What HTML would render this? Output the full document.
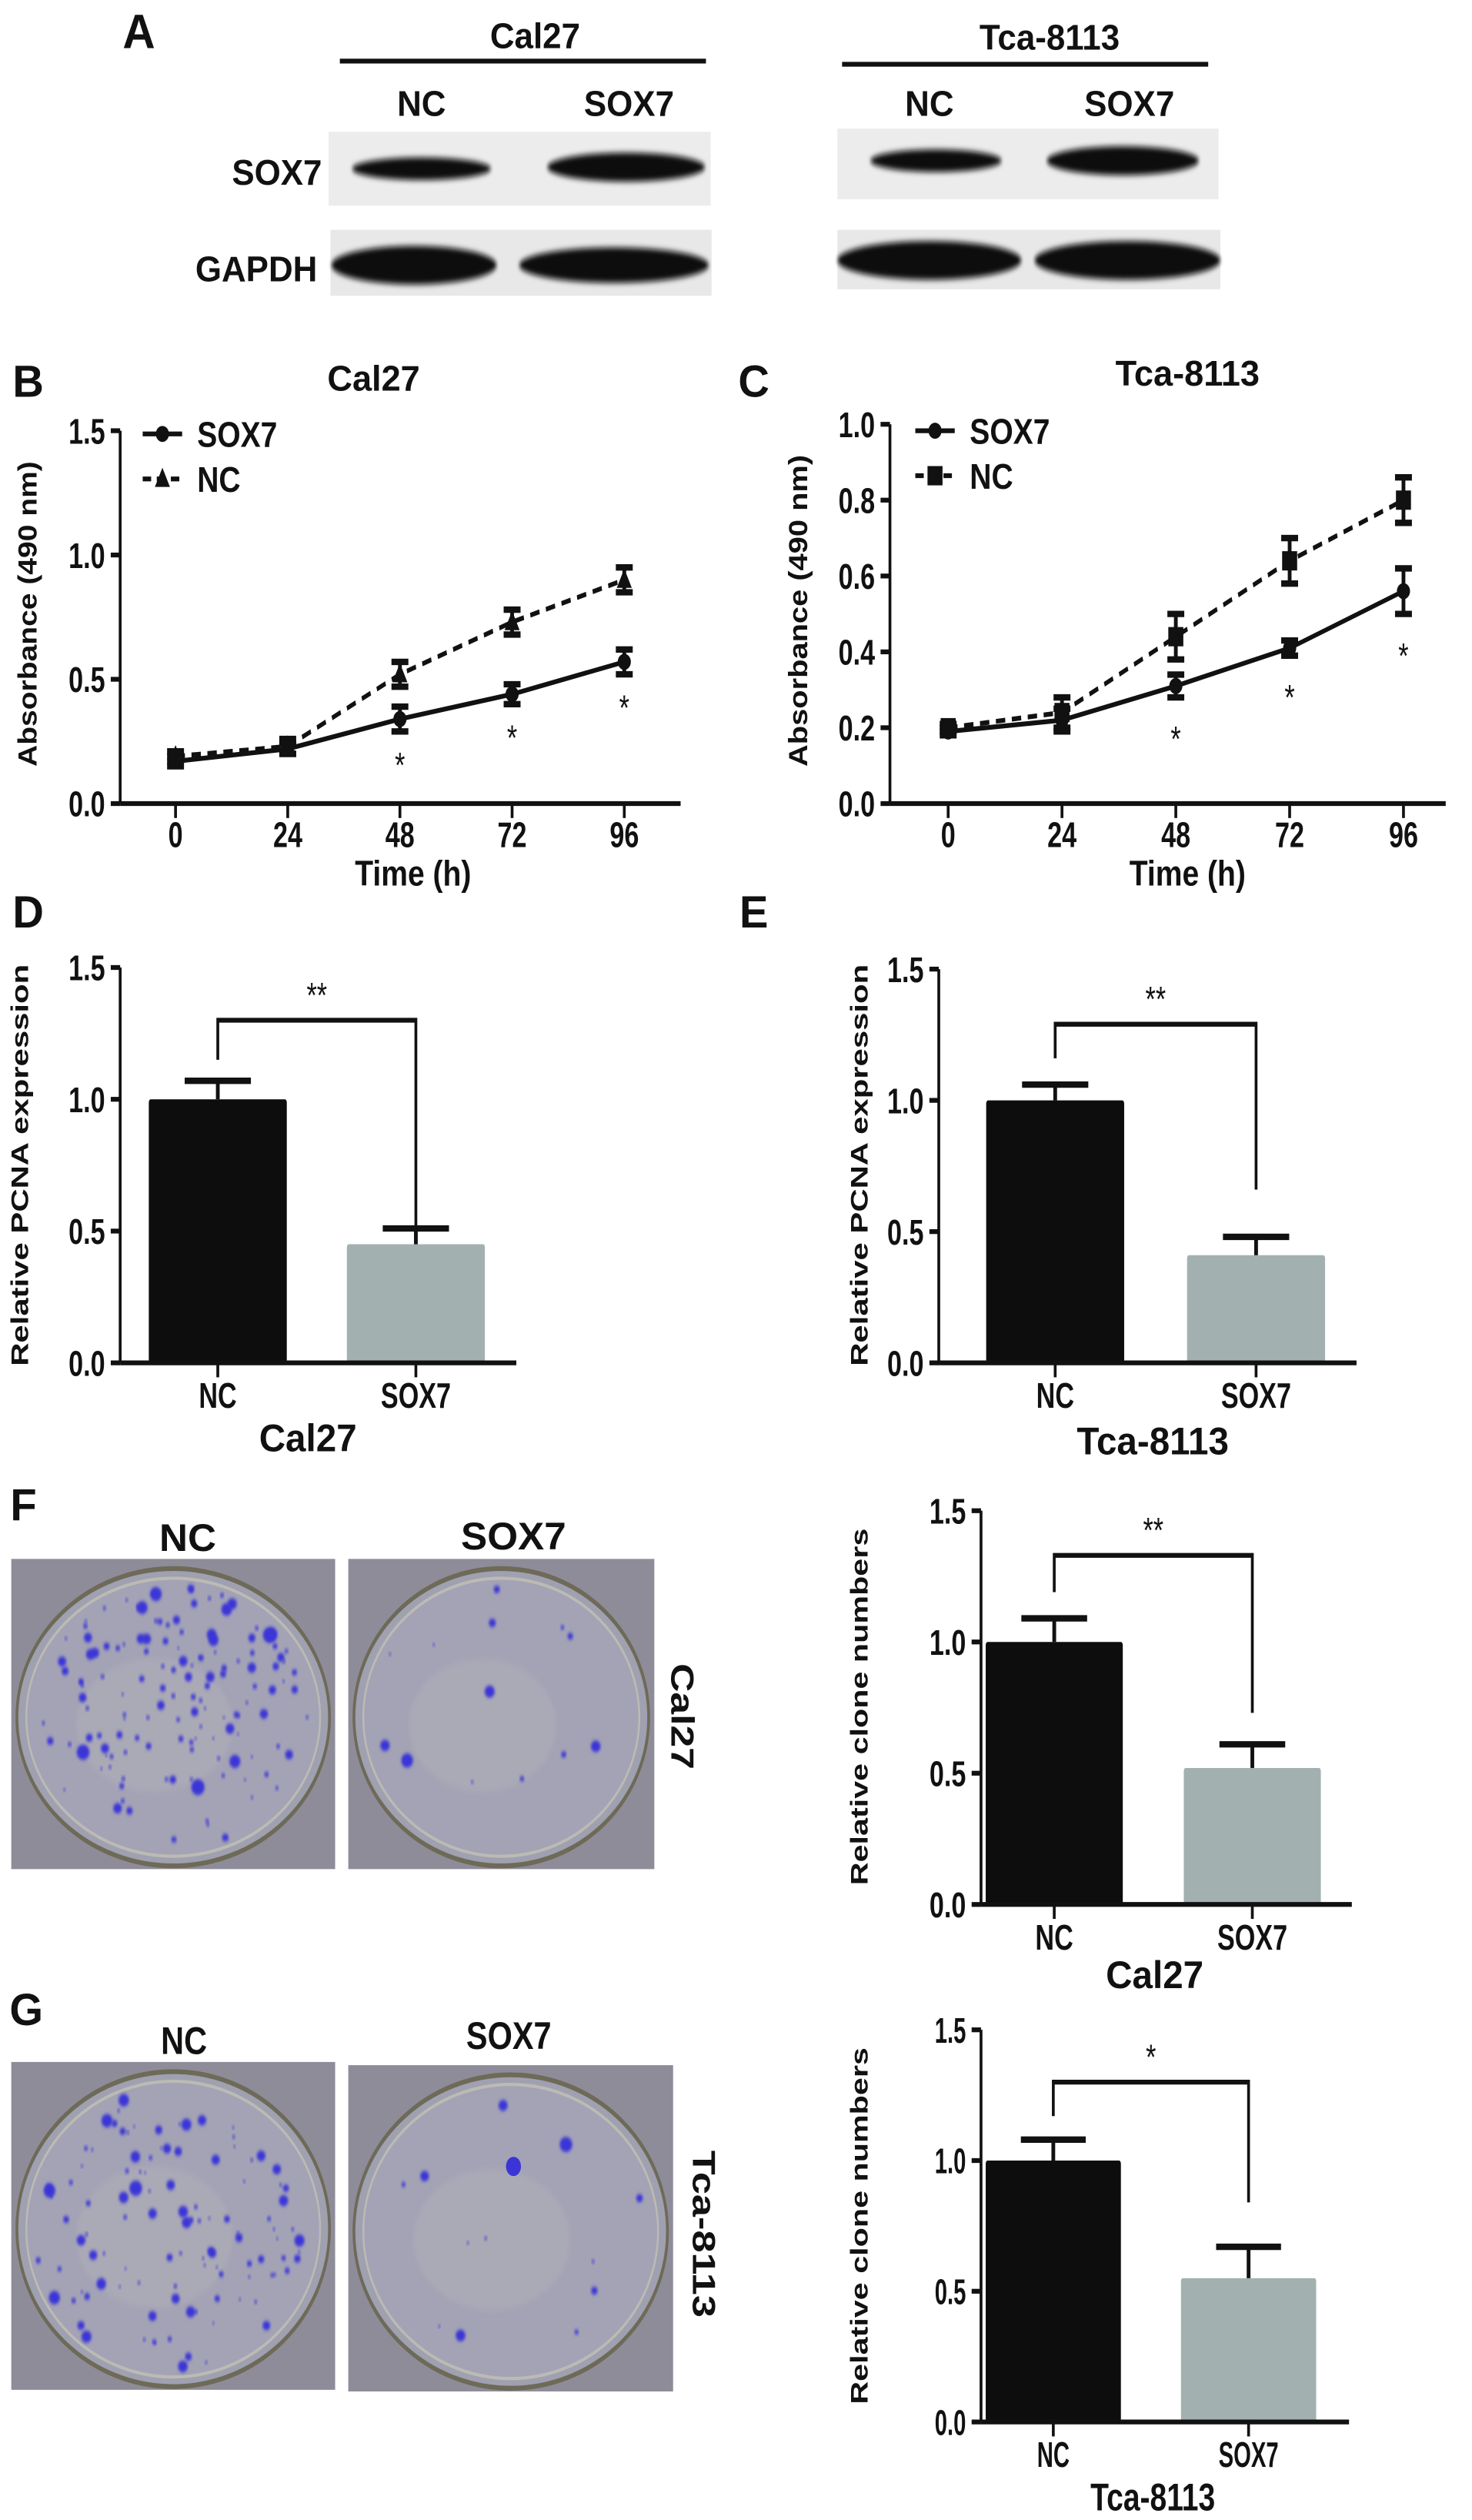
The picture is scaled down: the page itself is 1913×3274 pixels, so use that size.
<!DOCTYPE html>
<html><head><meta charset="utf-8"><style>
html,body{margin:0;padding:0;background:#fff;}
svg{display:block;}
text{font-family:"Liberation Sans",sans-serif;fill:#111;}
</style></head><body>
<svg id="fig" width="1913" height="3274" viewBox="0 0 1568 1568" preserveAspectRatio="none" xmlns="http://www.w3.org/2000/svg">
<defs>
<filter id="blur" x="-20%" y="-50%" width="140%" height="200%"><feGaussianBlur stdDeviation="1.8"/></filter>
<filter id="blur1" x="-20%" y="-50%" width="140%" height="200%"><feGaussianBlur stdDeviation="1.2"/></filter>
</defs>
<g id="blots">
  <line x1="362" y1="38" x2="752" y2="38" stroke="#111" stroke-width="3"/>
  <line x1="897" y1="40" x2="1287" y2="40" stroke="#111" stroke-width="3"/>
  <rect x="350" y="82" width="407" height="46" fill="#ececec"/>
  <rect x="352" y="143" width="406" height="41" fill="#e8e8e8"/>
  <rect x="892" y="80" width="406" height="44" fill="#ececec"/>
  <rect x="892" y="143" width="408" height="37" fill="#e8e8e8"/>
  <g filter="url(#blur)" fill="#0a0a0a">
    <ellipse cx="449" cy="105" rx="74" ry="7"/>
    <ellipse cx="667" cy="104" rx="84" ry="9"/>
    <ellipse cx="441" cy="165" rx="88" ry="12"/>
    <ellipse cx="654" cy="165" rx="101" ry="11"/>
    <ellipse cx="997" cy="100" rx="70" ry="7"/>
    <ellipse cx="1196" cy="100" rx="81" ry="9"/>
    <ellipse cx="990" cy="162" rx="98" ry="12"/>
    <ellipse cx="1201" cy="162" rx="99" ry="12"/>
  </g>
</g>
<g id="dishes"></g>
<g id="txt"></g>
</svg>
<script>
const NS='http://www.w3.org/2000/svg';
const svg=document.getElementById('fig');
const TX=document.getElementById('txt');
function el(tag,attrs,parent){const e=document.createElementNS(NS,tag);for(const k in attrs)e.setAttribute(k,attrs[k]);(parent||svg).appendChild(e);return e;}
function txt(x,y,s,fx,fy,anchor,weight,parent){
  const t=el('text',{transform:`translate(${x},${y}) scale(1,${fy/fx})`,'font-size':fx,'text-anchor':anchor||'middle','font-weight':weight||'bold'},parent||TX);
  t.textContent=s;return t;}
function vtxt(x,y,s,f,len,rot,weight,parent){
  const t=el('text',{transform:`translate(${x},${y}) rotate(${rot})`,'font-size':f,'text-anchor':'middle','font-weight':weight||'normal',textLength:len,lengthAdjust:'spacingAndGlyphs'},parent||TX);
  t.textContent=s;return t;}

/* ---------- Panel A labels ---------- */
let t;
t=txt(148,30,'A',48,30,'middle','bold');


t=txt(570,30,'Cal27',36,22);


t=txt(1118,31,'Tca-8113',36,22);


t=txt(449,72,'NC',36,22);


t=txt(670,72,'SOX7',36,22);


t=txt(990,72,'NC',36,22);


t=txt(1203,72,'SOX7',36,22);


t=txt(343,115,'SOX7',36,22,'end');


t=txt(338,175,'GAPDH',36,22,'end');



/* ---------- Line charts B, C ---------- */
const timePoints=[0,24,48,72,96];
const bSox7=[0.17,0.22,0.34,0.44,0.57];
const bSox7Err=[0.02,0.02,0.05,0.04,0.05];
const bNC=[0.19,0.23,0.52,0.73,0.90];
const bNCErr=[0.02,0.03,0.05,0.05,0.05];
const bTicks=['0.0','0.5','1.0','1.5'];
const cSox7=[0.19,0.22,0.31,0.41,0.56];
const cSox7Err=[0.01,0.03,0.03,0.02,0.06];
const cNC=[0.20,0.24,0.44,0.64,0.80];
const cNCErr=[0.01,0.04,0.06,0.06,0.06];
const cTicks=['0.0','0.2','0.4','0.6','0.8','1.0'];
const bStars=[false,false,true,true,true];
const cStars=[false,false,true,true,true];

function lineChart(cfg){
  const g=el('g',{});
  
  
  const X=v=>cfg.px0+(v-timePoints[0])/(timePoints[timePoints.length-1]-timePoints[0])*(cfg.px96-cfg.px0);
  const Y=v=>cfg.yBot-v/cfg.ymax*(cfg.yBot-cfg.yTop);
  el('line',{x1:cfg.ax,y1:cfg.yTop,x2:cfg.ax,y2:cfg.yBot,stroke:'#111','stroke-width':3},g);
  el('line',{x1:cfg.ax,y1:cfg.yBot,x2:cfg.xEnd,y2:cfg.yBot,stroke:'#111','stroke-width':3},g);
  cfg.ticks.forEach(s=>{const v=parseFloat(s);
    el('line',{x1:cfg.ax-10,y1:Y(v),x2:cfg.ax,y2:Y(v),stroke:'#111','stroke-width':3},g);
    const tl=txt(cfg.ax-16,Y(v)+8,s,28,22,'end','bold',g);
    
    
  });
  timePoints.forEach(tp=>{
    el('line',{x1:X(tp),y1:cfg.yBot,x2:X(tp),y2:cfg.yBot+9,stroke:'#111','stroke-width':3},g);
    const tl=txt(X(tp),cfg.yBot+27,String(tp),28,22,'middle','bold',g);
    
    
  });
  function series(vals,errs,dash,marker,nm){
    const sg=el('g',{},g);
    
    
    const pts=vals.map((v,i)=>X(timePoints[i])+','+Y(v)).join(' ');
    el('polyline',{points:pts,fill:'none',stroke:'#111','stroke-width':3,'stroke-dasharray':dash},sg);
    vals.forEach((v,i)=>{const x=X(timePoints[i]);
      el('line',{x1:x,y1:Y(v+errs[i]),x2:x,y2:Y(v-errs[i]),stroke:'#111','stroke-width':4},sg);
      el('line',{x1:x-9,y1:Y(v+errs[i]),x2:x+9,y2:Y(v+errs[i]),stroke:'#111','stroke-width':4},sg);
      el('line',{x1:x-9,y1:Y(v-errs[i]),x2:x+9,y2:Y(v-errs[i]),stroke:'#111','stroke-width':4},sg);
      const m=drawMarker(marker,x,Y(v),sg);
      
      
    });
  }
  series(cfg.nc,cfg.ncErr,'10,7',cfg.ncMarker,'series-nc');
  series(cfg.sox,cfg.soxErr,'none','circle','series-sox7');
  cfg.sox.forEach((v,i)=>{ if(cfg.stars[i]){
    const s=txt(X(timePoints[i]),Y(v-cfg.soxErr[i]-cfg.starOff)+10,'*',28,22,'middle','normal',g);
    
    
  }});
  const lg=el('g',{},g);
  
  
  el('line',{x1:cfg.lx,y1:cfg.ly,x2:cfg.lx+42,y2:cfg.ly,stroke:'#111','stroke-width':3},lg);
  drawMarker('circle',cfg.lx+21,cfg.ly,lg);
  let lt=txt(cfg.lx+58,cfg.ly+8,'SOX7',32,22,'start','bold',lg);
  
  
  el('line',{x1:cfg.lx,y1:cfg.ly+28,x2:cfg.lx+42,y2:cfg.ly+28,stroke:'#111','stroke-width':3,'stroke-dasharray':'9,6'},lg);
  drawMarker(cfg.ncMarker,cfg.lx+21,cfg.ly+28,lg);
  lt=txt(cfg.lx+58,cfg.ly+36,'NC',32,22,'start','bold',lg);
  
  
  return {g,X,Y};
}
function drawMarker(type,x,y,p){
  if(type==='circle') return el('ellipse',{cx:x,cy:y,rx:7,ry:5,fill:'#111'},p);
  if(type==='square') return el('rect',{x:x-8,y:y-6,width:16,height:12,fill:'#111'},p);
  return el('polygon',{points:`${x},${y-7} ${x+8},${y+5} ${x-8},${y+5}`,fill:'#111'},p);
}
lineChart({name:'chart-b-cal27-absorbance',ax:128,xEnd:725,yTop:268,yBot:500,ymax:1.5,px0:187,px96:665,ticks:bTicks,
  sox:bSox7,soxErr:bSox7Err,nc:bNC,ncErr:bNCErr,ncMarker:'triangle',stars:bStars,starOff:0.12,lx:152,ly:270});
lineChart({name:'chart-c-tca8113-absorbance',ax:948,xEnd:1540,yTop:264,yBot:500,ymax:1.0,px0:1010,px96:1495,ticks:cTicks,
  sox:cSox7,soxErr:cSox7Err,nc:cNC,ncErr:cNCErr,ncMarker:'square',stars:cStars,starOff:0.1,lx:975,ly:268});

t=txt(30,247,'B',46,28);


t=txt(803,247,'C',46,28);


t=txt(398,243,'Cal27',37,22,'middle','bold');


t=txt(1265,240,'Tca-8113',37,22);


t=txt(440,551,'Time (h)',32,22);


t=txt(1265,551,'Time (h)',32,22);


t=vtxt(39,382,'Absorbance (490 nm)',28,190,-90,'bold');


t=vtxt(860,380,'Absorbance (490 nm)',28,194,-90,'bold');



/* ---------- Bar charts D, E, F, G ---------- */
const barCategories=['NC','SOX7'];
const dValues=[1.0,0.45];
const dErrors=[0.07,0.06];
const eValues=[1.0,0.41];
const eErrors=[0.06,0.07];
const fValues=[1.0,0.52];
const fErrors=[0.09,0.09];
const gValues=[1.0,0.55];
const gErrors=[0.08,0.12];
const barTicks=['0.0','0.5','1.0','1.5'];
const dBracket=[1.30,1.15,0.51];
const eBracket=[1.29,1.16,0.66];
const fBracket=[1.33,1.19,0.73];
const gBracket=[1.30,1.17,0.84];
const barColors=['#0d0d0d','#a3b0b0'];

function barChart(cfg){
  const g=el('g',{});
  
  
  const Y=v=>cfg.yBot-v/1.5*(cfg.yBot-cfg.yTop);
  const bw=cfg.bw;
  const X=i=>cfg.cx[0]+i*(cfg.cx[1]-cfg.cx[0]);
  cfg.vals.forEach((v,i)=>{
    const b=el('rect',{x:X(i)-bw/2,y:Y(v),width:bw,height:Y(0)-Y(v),fill:barColors[i],rx:2},g);
    
    
    const e=cfg.errs[i];
    el('line',{x1:X(i),y1:Y(v),x2:X(i),y2:Y(v+e),stroke:'#111','stroke-width':4},g);
    el('line',{x1:X(i)-bw*0.24,y1:Y(v+e),x2:X(i)+bw*0.24,y2:Y(v+e),stroke:'#111','stroke-width':4},g);
    el('line',{x1:X(i),y1:cfg.yBot,x2:X(i),y2:cfg.yBot+9,stroke:'#111','stroke-width':3},g);
    const cl=txt(X(i),cfg.yBot+28,barCategories[i],cfg.catF,22,'middle','bold',g);
    
    
  });
  el('line',{x1:cfg.ax,y1:cfg.yTop,x2:cfg.ax,y2:cfg.yBot,stroke:'#111','stroke-width':3},g);
  el('line',{x1:cfg.ax,y1:cfg.yBot,x2:cfg.xEnd,y2:cfg.yBot,stroke:'#111','stroke-width':3},g);
  barTicks.forEach(s=>{const v=parseFloat(s);
    el('line',{x1:cfg.ax-10,y1:Y(v),x2:cfg.ax,y2:Y(v),stroke:'#111','stroke-width':3},g);
    const tl=txt(cfg.ax-16,Y(v)+8,s,cfg.narrow?24:28,22,'end','bold',g);
    
    
  });
  const br=cfg.bracket;
  const bp=el('polyline',{points:`${X(0)},${Y(br[1])} ${X(0)},${Y(br[0])} ${X(1)},${Y(br[0])} ${X(1)},${Y(br[2])}`,fill:'none',stroke:'#111','stroke-width':3},g);
  
  
  const st=txt((X(0)+X(1))/2,Y(br[0])-8,cfg.sig,28,22,'middle','normal',g);
  
  
  return g;
}
barChart({name:'chart-d-cal27-pcna',ax:128,xEnd:550,yTop:602,yBot:848,cx:[232,443],bw:147,vals:dValues,errs:dErrors,bracket:dBracket,sig:'**',catF:28});
barChart({name:'chart-e-tca8113-pcna',ax:1000,xEnd:1445,yTop:603,yBot:848,cx:[1124,1338],bw:147,vals:eValues,errs:eErrors,bracket:eBracket,sig:'**',catF:28});
barChart({name:'chart-f-cal27-clones',ax:1045,xEnd:1440,yTop:940,yBot:1185,cx:[1123,1334],bw:146,vals:fValues,errs:fErrors,bracket:fBracket,sig:'**',catF:28});
barChart({name:'chart-g-tca8113-clones',ax:1045,xEnd:1437,yTop:1263,yBot:1507,cx:[1122,1330],bw:144,vals:gValues,errs:gErrors,bracket:gBracket,sig:'*',catF:24,narrow:true});

t=txt(30,577,'D',46,28);


t=txt(803,577,'E',46,28);


t=txt(25,946,'F',46,28);


t=txt(28,1260,'G',46,28);


t=txt(328,903,'Cal27',39,24);


t=txt(1228,905,'Tca-8113',39,24);


t=txt(1230,1237,'Cal27',39,24);


t=txt(1228,1562,'Tca-8113',32,24);


t=vtxt(30,725,'Relative PCNA expression',26,250,-90,'bold');


t=vtxt(924,725,'Relative PCNA expression',26,250,-90,'bold');


t=vtxt(924,1062,'Relative clone numbers',26,222,-90,'bold');


t=vtxt(924,1385,'Relative clone numbers',26,222,-90,'bold');



/* ---------- colony dish images ---------- */
const D=document.getElementById('dishes');
let seed=7;function rnd(){seed=(seed*16807)%2147483647;return seed/2147483647;}
function dish(x,y,w,h,n,nm){
  const g=el('g',{},D);
  
  
  el('rect',{x,y,width:w,height:h,fill:'#8e8c98'},g);
  const cx=x+w/2,cy=y+h/2+2,rx=w/2-6,ry=h/2-4;
  el('ellipse',{cx,cy,rx,ry,fill:'#9fa0b0',stroke:'#6e6a58','stroke-width':3},g);
  el('ellipse',{cx,cy,rx:rx-10,ry:ry-6,fill:'#a3a3b5',stroke:'#bcbab4','stroke-width':2},g);
  el('ellipse',{cx:cx-20,cy:cy+5,rx:rx*0.5,ry:ry*0.45,fill:'#b0adb8',opacity:0.6,filter:'url(#blur)'},g);
  for(let i=0;i<n;i++){const a=rnd()*6.283,r=Math.sqrt(rnd())*0.95;
    const s=1.2+rnd()*rnd()*6;
    el('ellipse',{cx:cx+Math.cos(a)*r*(rx-10),cy:cy+Math.sin(a)*r*(ry-6),rx:s,ry:s*0.7,fill:'#3b35d8',filter:'url(#blur1)'},g);}
}
dish(12,970,345,193,140,'colony-dish-nc-cal27');
dish(371,970,326,193,14,'colony-dish-sox7-cal27');
dish(12,1283,345,204,110,'colony-dish-nc-tca8113');
dish(371,1285,346,203,12,'colony-dish-sox7-tca8113');
el('ellipse',{cx:547,cy:1348,rx:8,ry:6,fill:'#3b35d8'},D);
t=txt(200,965,'NC',42,24,'middle','bold');


t=txt(547,964,'SOX7',42,24,'middle','bold');


t=txt(196,1278,'NC',34,24,'middle','bold');


t=txt(542,1275,'SOX7',34,24,'middle','bold');


t=vtxt(715,1068,'Cal27',34,66,90,'bold');


t=vtxt(738,1390,'Tca-8113',34,104,90,'bold');


</script>
</body></html>
